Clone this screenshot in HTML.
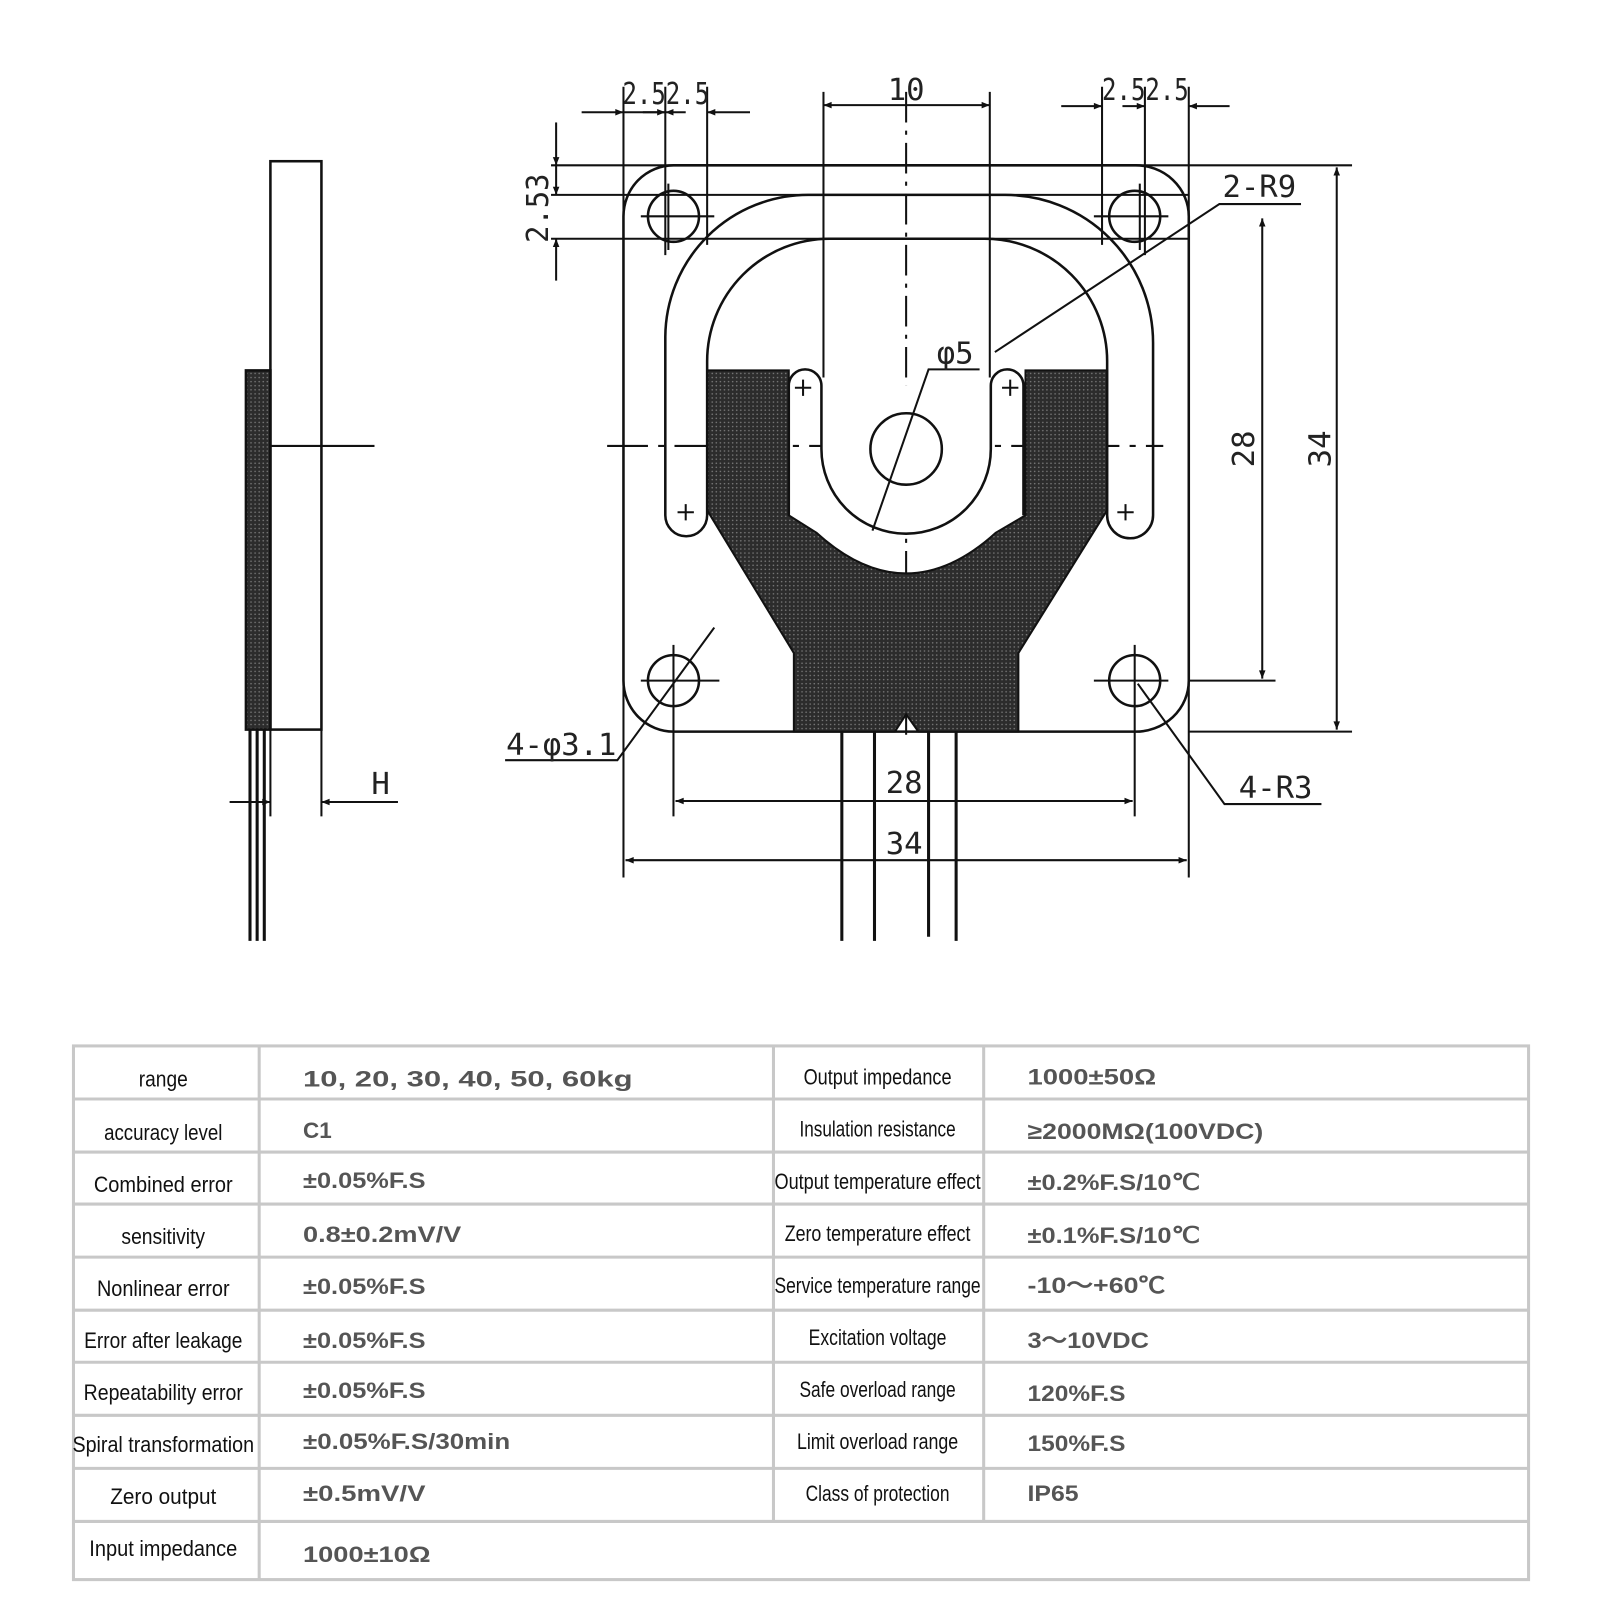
<!DOCTYPE html>
<html><head><meta charset="utf-8"><style>
html,body{margin:0;padding:0;background:#fff;}
svg{display:block;}
.d{font-family:"DejaVu Sans Mono","Liberation Mono",monospace;font-size:30px;fill:#222;}
.t{font-family:"Liberation Sans",sans-serif;font-size:22px;fill:#111;}
.v{font-family:"Liberation Sans",sans-serif;font-size:22px;fill:#555;font-weight:bold;}
</style></head><body>
<svg width="1600" height="1600" viewBox="0 0 1568 1568" xmlns="http://www.w3.org/2000/svg">
<defs>
<marker id="a" viewBox="0 0 10 10" refX="10" refY="5" markerWidth="12" markerHeight="8" orient="auto-start-reverse" markerUnits="userSpaceOnUse"><path d="M0,1 L10,5 L0,9 Z" fill="#111"/></marker>
<pattern id="h" width="4" height="4" patternUnits="userSpaceOnUse"><rect width="4" height="4" fill="#2c2c2c"/><circle cx="2" cy="2" r="0.8" fill="#777"/></pattern>
</defs>
<g stroke="#111" stroke-width="2.5" fill="none">
<rect x="265" y="158" width="50" height="557" fill="#fff"/>
<rect x="241" y="363" width="24" height="352" fill="url(#h)" stroke="#111"/>
<line x1="265" y1="437" x2="367" y2="437" stroke-width="2"/>
<line x1="245" y1="715" x2="245" y2="922" stroke-width="3"/>
<line x1="252" y1="715" x2="252" y2="922" stroke-width="3"/>
<line x1="259" y1="715" x2="259" y2="922" stroke-width="3"/>
<line x1="265" y1="715" x2="265" y2="800" stroke-width="2"/>
<line x1="315" y1="715" x2="315" y2="800" stroke-width="2"/>
<line x1="225" y1="786" x2="265" y2="786" stroke-width="2" marker-end="url(#a)"/>
<line x1="390" y1="786" x2="315" y2="786" stroke-width="2" marker-end="url(#a)"/>

<g stroke-width="2">
<line x1="540" y1="162" x2="1325" y2="162"/>
<line x1="540" y1="191" x2="1165" y2="191"/>
<line x1="540" y1="234" x2="1165" y2="234"/>
<line x1="611" y1="85" x2="611" y2="860"/>
<line x1="652" y1="85" x2="652" y2="250"/>
<line x1="693" y1="85" x2="693" y2="240"/>
<line x1="807" y1="90" x2="807" y2="370"/>
<line x1="970" y1="90" x2="970" y2="370"/>
<line x1="1080" y1="85" x2="1080" y2="240"/>
<line x1="1122" y1="85" x2="1122" y2="250"/>
<line x1="1165" y1="85" x2="1165" y2="860"/>
<line x1="888" y1="90" x2="888" y2="720" stroke-dasharray="30 8 4 8"/>
<line x1="595" y1="437" x2="1140" y2="437" stroke-dasharray="40 10 6 10"/>
<line x1="1165" y1="667" x2="1250" y2="667"/>
<line x1="1165" y1="717" x2="1325" y2="717"/>
<line x1="660" y1="640" x2="660" y2="800"/>
<line x1="1112" y1="640" x2="1112" y2="800"/>
</g>
<path d="M660,162 H1112 A52,50 0 0 1 1165,212 V667 A52,50 0 0 1 1112,717 H660 A49,50 0 0 1 611,667 V212 A49,50 0 0 1 660,162 Z"/>
<path d="M693,363 H773 V505 L800,522 Q888,602 976,522 L1005,505 V363 H1085 V500 L998,640 V717 H900 L888,700 L877,717 H778 V640 L693,500 Z" fill="url(#h)" stroke-width="2"/>
<path d="M805,378 V440 A83,83 0 0 0 971,440 V378" fill="#fff" stroke="none"/>
<path d="M773,505 V378 A16,16 0 0 1 805,378 V440 A83,83 0 0 0 971,440 V378 A16,16 0 0 1 1003,378 V505"/>
<path d="M652,505 V330 A140,140 0 0 1 792,191 H985 A145,145 0 0 1 1130,336 V505 A22,22 0 0 1 1085,505 V355 A120,120 0 0 0 965,234 H813 A120,120 0 0 0 693,354 V505 A20.5,20.5 0 0 1 652,505 Z"/>
<circle cx="660" cy="212" r="25"/><circle cx="1112" cy="212" r="25"/>
<circle cx="660" cy="667" r="25"/><circle cx="1112" cy="667" r="25"/>
<circle cx="888" cy="440" r="35"/>
<g stroke-width="2">
<line x1="628" y1="212" x2="700" y2="212"/><line x1="1072" y1="212" x2="1145" y2="212"/>
<line x1="628" y1="667" x2="705" y2="667"/><line x1="660" y1="632" x2="660" y2="640"/>
<line x1="1072" y1="667" x2="1145" y2="667"/><line x1="1112" y1="632" x2="1112" y2="640"/>
<line x1="655" y1="180" x2="655" y2="245"/><line x1="1117" y1="180" x2="1117" y2="245"/>
</g>
<g stroke-width="2">
<path d="M779,380 h16 M787,372 v16"/><path d="M982,380 h16 M990,372 v16"/>
<path d="M664,502 h16 M672,494 v16"/><path d="M1095,502 h16 M1103,494 v16"/>
</g>
<g stroke-width="3">
<line x1="825" y1="717" x2="825" y2="922"/><line x1="857" y1="717" x2="857" y2="922"/>
<line x1="910" y1="717" x2="910" y2="918"/><line x1="937" y1="717" x2="937" y2="922"/>
</g>
<g stroke-width="2">
<line x1="570" y1="110" x2="611" y2="110" marker-end="url(#a)"/>
<line x1="652" y1="110" x2="611" y2="110"/>
<line x1="630" y1="110" x2="652" y2="110" marker-end="url(#a)"/>
<line x1="672" y1="110" x2="652" y2="110" marker-end="url(#a)"/>
<line x1="735" y1="110" x2="693" y2="110" marker-end="url(#a)"/>
<line x1="970" y1="103" x2="807" y2="103" marker-end="url(#a)" marker-start="url(#a)"/>
<line x1="1040" y1="104" x2="1080" y2="104" marker-end="url(#a)"/>
<line x1="1100" y1="104" x2="1122" y2="104" marker-end="url(#a)"/>
<line x1="1205" y1="104" x2="1165" y2="104" marker-end="url(#a)"/>
<line x1="545" y1="120" x2="545" y2="162" marker-end="url(#a)"/>
<line x1="545" y1="162" x2="545" y2="191" marker-end="url(#a)"/>
<line x1="545" y1="275" x2="545" y2="234" marker-end="url(#a)"/>
<line x1="1237" y1="214" x2="1237" y2="665" marker-end="url(#a)" marker-start="url(#a)"/>
<line x1="1310" y1="164" x2="1310" y2="715" marker-end="url(#a)" marker-start="url(#a)"/>
<line x1="662" y1="785" x2="1110" y2="785" marker-end="url(#a)" marker-start="url(#a)"/>
<line x1="613" y1="843" x2="1163" y2="843" marker-end="url(#a)" marker-start="url(#a)"/>
<path d="M1275,200 H1195 L975,345"/>
<path d="M960,362 H910 L855,520"/>
<path d="M495,745 H605 L700,615"/>
<path d="M1115,670 L1200,788 H1295"/>
</g>
</g>
<g class="d">
<text x="610" y="102" textLength="85" lengthAdjust="spacingAndGlyphs">2.52.5</text>
<text x="870" y="98">10</text>
<text x="1080" y="98" textLength="85" lengthAdjust="spacingAndGlyphs">2.52.5</text>
<text x="1198" y="193">2-R9</text>
<text x="918" y="356">φ5</text>
<text x="496" y="740" textLength="108" lengthAdjust="spacingAndGlyphs">4-φ3.1</text>
<text x="1214" y="782">4-R3</text>
<text x="868" y="777">28</text>
<text x="868" y="837">34</text>
<text x="364" y="778">H</text>
<text transform="translate(1229,458) rotate(-90)">28</text>
<text transform="translate(1304,458) rotate(-90)">34</text>
<text transform="translate(537,238) rotate(-90)" textLength="68" lengthAdjust="spacingAndGlyphs">2.53</text>
</g>
<g stroke="#c8c8c8" stroke-width="3" fill="none">
<rect x="72" y="1025" width="1426" height="523"/>
<path d="M72,1077H1498M72,1129H1498M72,1180H1498M72,1232H1498M72,1284H1498M72,1335H1498M72,1387H1498M72,1439H1498M72,1491H1498"/>
<path d="M254,1025V1548M758,1025V1491M964,1025V1491"/>
</g>
<g class="t" text-anchor="middle" lengthAdjust="spacingAndGlyphs">
<text x="160" y="1065" textLength="48" lengthAdjust="spacingAndGlyphs">range</text>
<text x="160" y="1117" textLength="116" lengthAdjust="spacingAndGlyphs">accuracy level</text>
<text x="160" y="1168" textLength="136" lengthAdjust="spacingAndGlyphs">Combined error</text>
<text x="160" y="1219" textLength="82" lengthAdjust="spacingAndGlyphs">sensitivity</text>
<text x="160" y="1270" textLength="130" lengthAdjust="spacingAndGlyphs">Nonlinear error</text>
<text x="160" y="1321" textLength="155" lengthAdjust="spacingAndGlyphs">Error after leakage</text>
<text x="160" y="1372" textLength="156" lengthAdjust="spacingAndGlyphs">Repeatability error</text>
<text x="160" y="1423" textLength="178" lengthAdjust="spacingAndGlyphs">Spiral transformation</text>
<text x="160" y="1474" textLength="104" lengthAdjust="spacingAndGlyphs">Zero output</text>
<text x="160" y="1525" textLength="145" lengthAdjust="spacingAndGlyphs">Input impedance</text>
<text x="860" y="1063" textLength="145" lengthAdjust="spacingAndGlyphs">Output impedance</text>
<text x="860" y="1114" textLength="153" lengthAdjust="spacingAndGlyphs">Insulation resistance</text>
<text x="860" y="1165" textLength="202" lengthAdjust="spacingAndGlyphs">Output temperature effect</text>
<text x="860" y="1216" textLength="182" lengthAdjust="spacingAndGlyphs">Zero temperature effect</text>
<text x="860" y="1267" textLength="202" lengthAdjust="spacingAndGlyphs">Service temperature range</text>
<text x="860" y="1318" textLength="135" lengthAdjust="spacingAndGlyphs">Excitation voltage</text>
<text x="860" y="1369" textLength="153" lengthAdjust="spacingAndGlyphs">Safe overload range</text>
<text x="860" y="1420" textLength="158" lengthAdjust="spacingAndGlyphs">Limit overload range</text>
<text x="860" y="1471" textLength="141" lengthAdjust="spacingAndGlyphs">Class of protection</text>
</g>
<g class="v">
<text x="297" y="1065" textLength="323" lengthAdjust="spacingAndGlyphs">10, 20, 30, 40, 50, 60kg</text>
<text x="297" y="1115">C1</text>
<text x="297" y="1164" textLength="120" lengthAdjust="spacingAndGlyphs">±0.05%F.S</text>
<text x="297" y="1217" textLength="155" lengthAdjust="spacingAndGlyphs">0.8±0.2mV/V</text>
<text x="297" y="1268" textLength="120" lengthAdjust="spacingAndGlyphs">±0.05%F.S</text>
<text x="297" y="1321" textLength="120" lengthAdjust="spacingAndGlyphs">±0.05%F.S</text>
<text x="297" y="1370" textLength="120" lengthAdjust="spacingAndGlyphs">±0.05%F.S</text>
<text x="297" y="1420" textLength="203" lengthAdjust="spacingAndGlyphs">±0.05%F.S/30min</text>
<text x="297" y="1471" textLength="120" lengthAdjust="spacingAndGlyphs">±0.5mV/V</text>
<text x="297" y="1531" textLength="125" lengthAdjust="spacingAndGlyphs">1000±10Ω</text>
<text x="1007" y="1063" textLength="126" lengthAdjust="spacingAndGlyphs">1000±50Ω</text>
<text x="1007" y="1116" textLength="231" lengthAdjust="spacingAndGlyphs">≥2000MΩ(100VDC)</text>
<text x="1007" y="1166" textLength="169" lengthAdjust="spacingAndGlyphs">±0.2%F.S/10℃</text>
<text x="1007" y="1218" textLength="169" lengthAdjust="spacingAndGlyphs">±0.1%F.S/10℃</text>
<text x="1007" y="1267" textLength="135" lengthAdjust="spacingAndGlyphs">-10～+60℃</text>
<text x="1007" y="1321" textLength="119" lengthAdjust="spacingAndGlyphs">3～10VDC</text>
<text x="1007" y="1373" textLength="96" lengthAdjust="spacingAndGlyphs">120%F.S</text>
<text x="1007" y="1422" textLength="96" lengthAdjust="spacingAndGlyphs">150%F.S</text>
<text x="1007" y="1471" textLength="50" lengthAdjust="spacingAndGlyphs">IP65</text>
</g>
</svg>
</body></html>
